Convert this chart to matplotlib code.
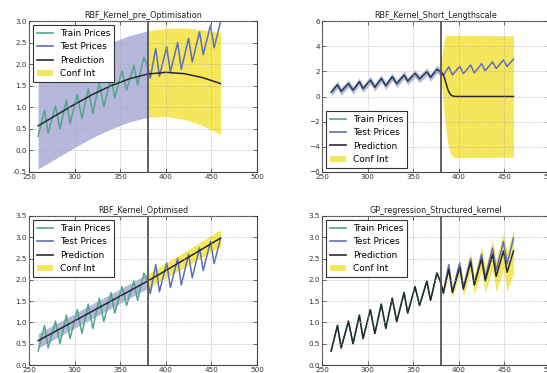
import numpy as np
import matplotlib
matplotlib.use('Agg')
import matplotlib.pyplot as plt
from matplotlib.lines import Line2D
from matplotlib.patches import Patch

# ---------------- data ----------------
train_x = [260, 267, 271, 279, 284, 291, 295, 303, 308, 315, 320, 327, 332, 340, 344, 352, 357, 365, 369, 376, 380]
train_y = [0.33, 0.93, 0.40, 1.03, 0.50, 1.17, 0.62, 1.30, 0.74, 1.43, 0.86, 1.57, 1.02, 1.70, 1.22, 1.84, 1.40, 1.97, 1.52, 2.16, 1.95]

test_x = [380, 383, 389, 393, 401, 405, 413, 417, 425, 429, 437, 441, 449, 453, 460]
test_y = [1.95, 1.68, 2.36, 1.72, 2.40, 1.82, 2.50, 1.88, 2.60, 2.05, 2.75, 2.22, 2.90, 2.38, 2.98]

# RBF pre optimisation
pre_x = [260, 280, 300, 320, 340, 360, 380, 400, 420, 440, 460]
pre_pred = [0.57, 0.82, 1.07, 1.30, 1.50, 1.66, 1.77, 1.81, 1.78, 1.69, 1.55]
pre_hw = [1.0, 1.0, 1.0, 1.0, 1.0, 1.0, 1.0, 1.02, 1.06, 1.11, 1.18]

# RBF short lengthscale
short_train_hw = [0.3, 0.3, 0.3, 0.3, 0.3, 0.3, 0.3, 0.3, 0.3, 0.3, 0.3,
                  0.3, 0.3, 0.3, 0.3, 0.3, 0.3, 0.3, 0.3, 0.3, 0.3]
short_x = [380, 382, 384, 386, 388, 390, 392, 395, 400, 430, 460]
short_pred = [1.95, 1.85, 1.55, 1.05, 0.55, 0.25, 0.08, 0.01, 0.0, 0.0, 0.0]
short_hw = [0.15, 1.6, 3.0, 3.85, 4.3, 4.6, 4.78, 4.85, 4.85, 4.84, 4.82]

# RBF optimised
opt_x = [260, 320, 380, 420, 460]
opt_pred = [0.57, 1.27, 1.97, 2.47, 2.98]
opt_hw = [0.17, 0.17, 0.17, 0.18, 0.20]

# Structured kernel (test region)
struct_x = [380, 383, 389, 393, 401, 405, 413, 417, 425, 429, 437, 441, 449, 453, 460]
struct_pred = [1.95, 1.70, 2.25, 1.70, 2.30, 1.78, 2.42, 1.88, 2.50, 1.98, 2.60, 2.08, 2.68, 2.18, 2.68]
struct_hw = [0.03, 0.06, 0.10, 0.12, 0.15, 0.17, 0.21, 0.23, 0.27, 0.29, 0.34, 0.37, 0.42, 0.45, 0.52]

titles = ['RBF_Kernel_pre_Optimisation', 'RBF_Kernel_Short_Lengthscale',
          'RBF_Kernel_Optimised', 'GP_regression_Structured_kernel']
legend_labels = ['Train Prices', 'Test Prices', 'Prediction', 'Conf Int']
split_x = 380

# ---------------- style ----------------
C_TRAIN = '#4ea88a'
C_TEST = '#5d6fb5'
C_PRED = '#262a30'
C_CONF = '#f6e65c'
C_BAND = '#b7b6dc'

plt.rcParams['font.family'] = 'DejaVu Sans'

fig = plt.figure(figsize=(5.47, 3.73), dpi=100)
W, H = 547.0, 373.0
pos = [
    (29 / W, 1 - 172 / H, 228 / W, 151 / H),
    (322 / W, 1 - 172 / H, 228 / W, 151 / H),
    (29 / W, 1 - 365 / H, 228 / W, 149 / H),
    (322 / W, 1 - 365 / H, 228 / W, 149 / H),
]
axes = [fig.add_axes(p) for p in pos]


def split(xs, ys):
    xs = np.asarray(xs, float)
    ys = np.asarray(ys, float)
    a = xs <= split_x
    b = xs >= split_x
    return (xs[a], ys[a]), (xs[b], ys[b])


def style(ax, title, ylim, yticks, legloc):
    ax.set_xlim(250, 500)
    ax.set_xticks([250, 300, 350, 400, 450, 500])
    ax.set_ylim(*ylim)
    ax.set_yticks(yticks)
    if isinstance(yticks[0], float):
        ax.set_yticklabels(['%.1f' % v for v in yticks])
    ax.grid(True, color='#aaaaaa', linestyle=':', linewidth=0.6)
    ax.set_axisbelow(False)
    ax.tick_params(direction='in', top=True, right=True, labelsize=5.2,
                   length=3, width=0.5, pad=1.5, colors='#333333')
    for s in ax.spines.values():
        s.set_color('#444444')
        s.set_linewidth(0.8)
    ax.set_title(title, fontsize=5.8, pad=2, color='#222222')
    ax.axvline(split_x, color='#555555', linewidth=1.3, zorder=5)
    handles = [Line2D([], [], color=C_TRAIN, lw=1.2),
               Line2D([], [], color=C_TEST, lw=1.2),
               Line2D([], [], color=C_PRED, lw=1.2),
               Patch(facecolor=C_CONF, edgecolor='none')]
    leg = ax.legend(handles, legend_labels, loc=legloc, fontsize=6.4,
                    fancybox=False, framealpha=1, edgecolor='#333333',
                    handlelength=1.8, handletextpad=0.8, borderpad=0.45,
                    labelspacing=0.5, borderaxespad=0.45)
    leg.get_frame().set_linewidth(0.8)
    leg.set_zorder(20)


# ---- Panel 1: pre optimisation ----
ax = axes[0]
(px1, pp1), (px2, pp2) = split(pre_x, pre_pred)
(hx1, hw1), (hx2, hw2) = split(pre_x, pre_hw)
ax.fill_between(px1, pp1 - hw1, pp1 + hw1, color=C_BAND, linewidth=0)
ax.fill_between(px2, pp2 - hw2, pp2 + hw2, color=C_CONF, linewidth=0)
ax.plot(train_x, train_y, color=C_TRAIN, lw=1.1)
ax.plot(test_x, test_y, color=C_TEST, lw=1.1)
ax.plot(pre_x, pre_pred, color=C_PRED, lw=1.1)
style(ax, titles[0], (-0.5, 3.0), [-0.5, 0.0, 0.5, 1.0, 1.5, 2.0, 2.5, 3.0], 'upper left')

# ---- Panel 2: short lengthscale ----
ax = axes[1]
ty = np.asarray(train_y)
thw = np.asarray(short_train_hw)
ax.fill_between(train_x, ty - thw, ty + thw, color=C_BAND, linewidth=0)
sp = np.asarray(short_pred)
sh = np.asarray(short_hw)
ax.fill_between(short_x, sp - sh, sp + sh, color=C_CONF, linewidth=0)
ax.plot(train_x, train_y, color=C_TRAIN, lw=1.1)
ax.plot(test_x, test_y, color=C_TEST, lw=1.1)
ax.plot(train_x, train_y, color='#2a3550', lw=1.0)
ax.plot(short_x, short_pred, color=C_PRED, lw=1.1)
style(ax, titles[1], (-6, 6), [-6, -4, -2, 0, 2, 4, 6], 'lower left')

# ---- Panel 3: optimised ----
ax = axes[2]
(ox1, op1), (ox2, op2) = split(opt_x, opt_pred)
(_, oh1), (_, oh2) = split(opt_x, opt_hw)
ax.fill_between(ox1, op1 - oh1, op1 + oh1, color=C_BAND, linewidth=0)
ax.fill_between(ox2, op2 - oh2, op2 + oh2, color=C_CONF, linewidth=0)
ax.plot(train_x, train_y, color=C_TRAIN, lw=1.1)
ax.plot(test_x, test_y, color=C_TEST, lw=1.1)
ax.plot(opt_x, opt_pred, color=C_PRED, lw=1.1)
style(ax, titles[2], (0.0, 3.5), [0.0, 0.5, 1.0, 1.5, 2.0, 2.5, 3.0, 3.5], 'upper left')

# ---- Panel 4: structured kernel ----
ax = axes[3]
stp = np.asarray(struct_pred)
sth = np.asarray(struct_hw)
ax.fill_between(struct_x, stp - sth, stp + sth, color=C_CONF, linewidth=0)
ax.plot(train_x, train_y, color=C_TRAIN, lw=1.1)
ax.plot(test_x, test_y, color=C_TEST, lw=1.1)
ax.plot(train_x, train_y, color=C_PRED, lw=1.1)
ax.plot(struct_x, struct_pred, color=C_PRED, lw=1.1)
style(ax, titles[3], (0.0, 3.5), [0.0, 0.5, 1.0, 1.5, 2.0, 2.5, 3.0, 3.5], 'upper left')

fig.savefig('out.png', dpi=100, facecolor='white')
